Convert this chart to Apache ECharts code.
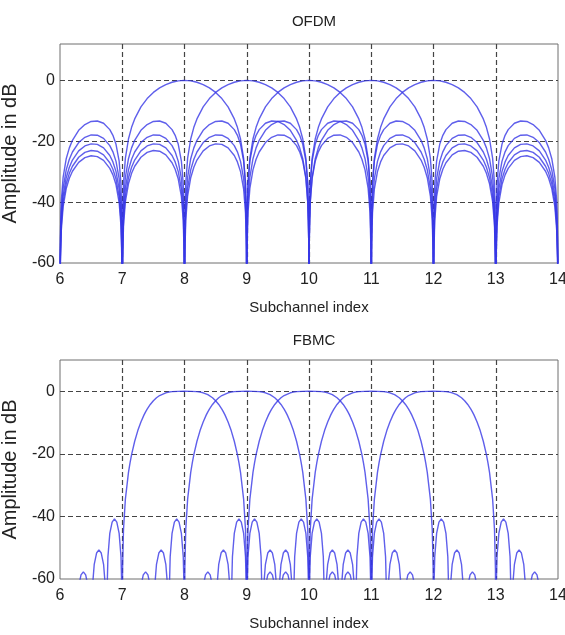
<!DOCTYPE html>
<html>
<head>
<meta charset="utf-8">
<script src="https://cdn.jsdelivr.net/npm/echarts@6.0.0/dist/echarts.min.js"></script>
<style>
  html, body { margin: 0; padding: 0; background: #fff; }
  #chart { width: 565px; height: 635px; }
</style>
</head>
<body>
<div id="chart"></div>
<script>
// axis ticks
const xTicks = [6, 7, 8, 9, 10, 11, 12, 13, 14];
const yTicks = [-60, -40, -20, 0];

// ---- OFDM: sinc-shaped spectrum of every active subchannel ----
const ofdmCenters = [8, 9, 10, 11, 12];
// sample positions inside one lobe (0 = lobe start, 1 = lobe end)
const lobeFrac = [0, 0.005, 0.02, 0.05, 0.1, 0.15, 0.2, 0.3, 0.4, 0.5, 0.6, 0.7, 0.8, 0.85, 0.9, 0.95, 0.98, 0.995, 1];
// dB, main lobe from the centre (offset 0) to the first null (offset 1)
const ofdmMainLobe = [0, 0, -0.01, -0.04, -0.14, -0.32, -0.58, -1.33, -2.42, -3.92, -5.94, -8.69, -12.62, -15.39, -19.23, -25.61, -33.81, -45.98, -80];
// dB, side lobes between offsets 1-2, 2-3, ... 5-6
const ofdmSideLobe1 = [-80, -46.07, -34.16, -26.48, -20.97, -18.02, -16.15, -14.06, -13.31, -13.47, -14.47, -16.39, -19.67, -22.15, -25.72, -31.85, -39.92, -52.02, -80];
const ofdmSideLobe2 = [-80, -52.07, -40.09, -32.29, -26.59, -23.45, -21.41, -19.02, -17.99, -17.90, -18.68, -20.41, -23.51, -25.90, -29.39, -35.45, -43.47, -55.55, -80];
const ofdmSideLobe3 = [-80, -55.58, -43.58, -35.74, -29.97, -26.77, -24.67, -22.15, -21.01, -20.82, -21.51, -23.15, -26.16, -28.51, -31.96, -37.99, -45.98, -58.05, -80];
const ofdmSideLobe4 = [-80, -58.08, -46.07, -38.20, -32.40, -29.16, -27.03, -24.45, -23.25, -23.01, -23.64, -25.23, -28.19, -30.52, -33.95, -39.94, -47.93, -59.99, -80];
const ofdmSideLobe5 = [-80, -60.01, -48.00, -40.12, -34.29, -31.04, -28.88, -26.27, -25.03, -24.75, -25.35, -26.90, -29.83, -32.15, -35.56, -41.54, -49.52, -61.58, -80];

// ---- FBMC: prototype filter response of every active subchannel ----
const fbmcCenters = [8, 9, 10, 11, 12];
const fbmcMainFrac = [0, 0.1, 0.2, 0.25, 0.3, 0.375, 0.4, 0.45, 0.5, 0.55, 0.6, 0.625, 0.65, 0.7, 0.75, 0.8, 0.85, 0.875, 0.9, 0.95, 0.98, 0.995, 1];
const fbmcMainLobe = [0, -0.02, -0.11, -0.25, -0.48, -1.08, -1.36, -2.08, -3.01, -4.21, -5.70, -6.58, -7.55, -9.81, -12.57, -15.98, -20.27, -22.88, -25.94, -34.54, -44.27, -56.8, -80];
// side lobes sit between these offsets
const fbmcSideEdges = [1, 1.25, 1.5, 1.75];
const fbmcSideFrac = [0, 0.02, 0.08, 0.2, 0.35, 0.5, 0.65, 0.8, 0.92, 0.98, 1];
const fbmcSideLobe1 = [-80, -64.8, -52.9, -45.4, -41.8, -40.8, -41.8, -45.4, -52.9, -64.8, -80];
const fbmcSideLobe2 = [-80, -74.7, -62.8, -55.3, -51.7, -50.7, -51.7, -55.3, -62.8, -74.7, -80];
const fbmcSideLobe3 = [-80, -80, -69.8, -62.3, -58.7, -57.7, -58.7, -62.3, -69.8, -80, -80];

const lineColor = 'rgba(55, 55, 230, 0.8)';
const font = "'Liberation Sans', Arial, sans-serif";

// one side of a curve, offsets measured from the subchannel centre
function halfCurve(pieces) {
  const pts = [];
  pieces.forEach(([from, to, fracs, vals], i) => {
    fracs.forEach((f, j) => {
      if (i > 0 && j === 0) return;
      pts.push([from + f * (to - from), vals[j]]);
    });
  });
  return pts;
}

function curveAt(center, half) {
  const lo = xTicks[0], hi = xTicks[xTicks.length - 1];
  const left = half.slice(1).map(([d, v]) => [center - d, v]).reverse();
  const right = half.map(([d, v]) => [center + d, v]);
  return left.concat(right).filter(p => p[0] >= lo - 1e-9 && p[0] <= hi + 1e-9);
}

const ofdmHalf = halfCurve([
  [0, 1, lobeFrac, ofdmMainLobe],
  [1, 2, lobeFrac, ofdmSideLobe1],
  [2, 3, lobeFrac, ofdmSideLobe2],
  [3, 4, lobeFrac, ofdmSideLobe3],
  [4, 5, lobeFrac, ofdmSideLobe4],
  [5, 6, lobeFrac, ofdmSideLobe5]
]);
const fbmcHalf = halfCurve([
  [0, 1, fbmcMainFrac, fbmcMainLobe],
  [fbmcSideEdges[0], fbmcSideEdges[1], fbmcSideFrac, fbmcSideLobe1],
  [fbmcSideEdges[1], fbmcSideEdges[2], fbmcSideFrac, fbmcSideLobe2],
  [fbmcSideEdges[2], fbmcSideEdges[3], fbmcSideFrac, fbmcSideLobe3]
]);

function makeSeries(centers, half, idx) {
  return centers.map(c => ({
    type: 'line',
    xAxisIndex: idx,
    yAxisIndex: idx,
    data: curveAt(c, half),
    showSymbol: false,
    symbol: 'none',
    clip: true,
    silent: true,
    lineStyle: { color: lineColor, width: 1.4 }
  }));
}

const dash = { type: [5, 3], color: '#444', width: 1.2 };

function xAxisFor(idx) {
  return {
    type: 'value',
    gridIndex: idx,
    min: xTicks[0],
    max: xTicks[xTicks.length - 1],
    interval: 1,
    axisLine: { show: false },
    axisTick: { show: false },
    splitLine: { show: true, showMinLine: false, showMaxLine: false, lineStyle: dash },
    axisLabel: { margin: 9, fontFamily: font, fontSize: 16, color: '#222' },
    name: 'Subchannel index',
    nameLocation: 'middle',
    nameGap: 37,
    nameTextStyle: { fontFamily: font, fontSize: 15, color: '#222' }
  };
}

function yAxisFor(idx, yMax) {
  return {
    type: 'value',
    gridIndex: idx,
    min: yTicks[0],
    max: yMax,
    interval: 20,
    axisLine: { show: false },
    axisTick: { show: false },
    splitLine: { show: true, showMinLine: false, showMaxLine: false, lineStyle: dash },
    axisLabel: {
      margin: 5, fontFamily: font, fontSize: 16, color: '#222',
      formatter: v => (yTicks.includes(v) ? String(v) : '')
    },
    name: 'Amplitude in dB',
    nameLocation: 'middle',
    nameGap: 32,
    nameTextStyle: { fontFamily: font, fontSize: 20, color: '#222' }
  };
}

const chart = echarts.init(document.getElementById('chart'), null, { renderer: 'canvas' });
chart.setOption({
  animation: false,
  backgroundColor: '#fff',
  title: [
    { text: 'OFDM', left: 309, top: 9, textAlign: 'center',
      textStyle: { fontFamily: font, fontSize: 15, fontWeight: 'normal', color: '#222' } },
    { text: 'FBMC', left: 309, top: 328, textAlign: 'center',
      textStyle: { fontFamily: font, fontSize: 15, fontWeight: 'normal', color: '#222' } }
  ],
  grid: [
    { left: 60, right: 7, top: 44, height: 219, show: true, borderColor: '#6e6e6e', borderWidth: 1, outerBoundsMode: 'none' },
    { left: 60, right: 7, top: 360, height: 219, show: true, borderColor: '#6e6e6e', borderWidth: 1, outerBoundsMode: 'none' }
  ],
  xAxis: [xAxisFor(0), xAxisFor(1)],
  yAxis: [yAxisFor(0, 12), yAxisFor(1, 10)],
  series: makeSeries(ofdmCenters, ofdmHalf, 0).concat(makeSeries(fbmcCenters, fbmcHalf, 1))
});
</script>
</body>
</html>
